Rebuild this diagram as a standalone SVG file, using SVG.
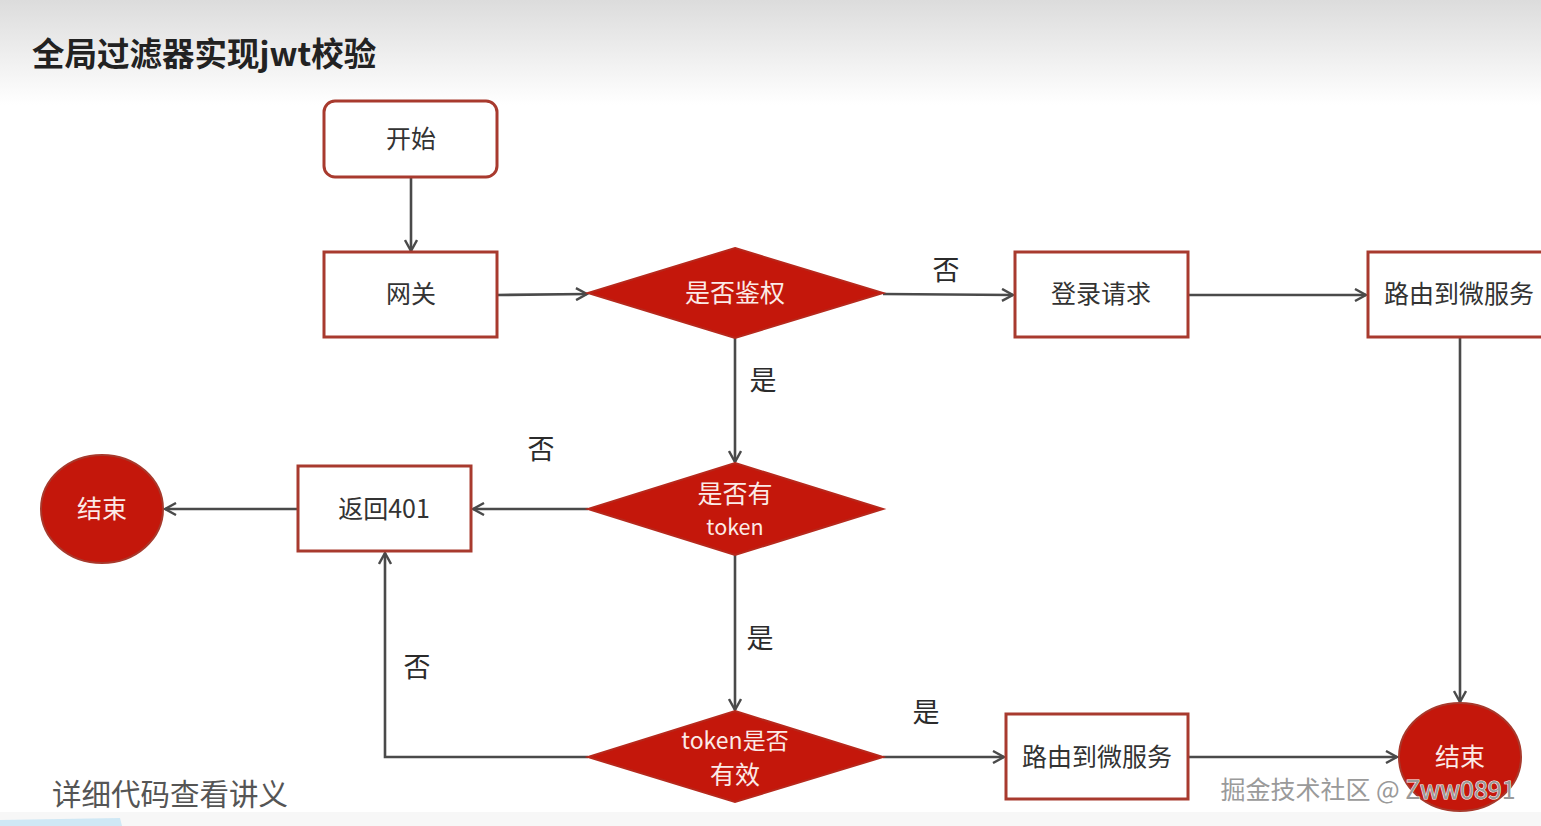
<svg xmlns="http://www.w3.org/2000/svg" width="1541" height="826" viewBox="0 0 1541 826">
  <defs>
    <linearGradient id="hdr" x1="0" y1="0" x2="0" y2="1">
      <stop offset="0" stop-color="#dcdcdc"/>
      <stop offset="1" stop-color="#ffffff"/>
    </linearGradient>
    <marker id="arr" viewBox="0 0 14 14" refX="12" refY="7" markerWidth="14" markerHeight="14" markerUnits="userSpaceOnUse" orient="auto">
      <path d="M1,1 L12,7 L1,13" fill="none" stroke="#4a4a4a" stroke-width="2.4" stroke-linejoin="miter"/>
    </marker>
    <style>
      .box { fill: #ffffff; stroke: #a83a2e; stroke-width: 3; }
      .dia { fill: #c4170b; stroke: #b7281c; stroke-width: 2; }
      .end { fill: #c4170b; stroke: #a8392c; stroke-width: 2; }
      .t { font-family: "Noto Sans CJK SC", "Noto Sans", "Liberation Sans", sans-serif; text-anchor: middle; dominant-baseline: central; }
      .nt { fill: #333333; font-size: 25px; }
      .wt { fill: #fbeae7; font-size: 25px; }
      .wt.sm { font-size: 21.5px; }
      .wt.md { font-size: 23px; }
      .lbl { fill: #2b2b2b; font-size: 27px; }
      .conn path { fill: none; stroke: #4a4a4a; stroke-width: 2.6; }
    </style>
  </defs>

  <rect x="0" y="0" width="1541" height="826" fill="#ffffff"/>
  <rect x="0" y="0" width="1541" height="105" fill="url(#hdr)"/>
  <rect x="0" y="812" width="1541" height="14" fill="#f7f7f7"/>
  <path d="M0,820 L120,818 L122,826 L0,826 Z" fill="#cfe8f5"/>

  <text x="32" y="51" font-family="Noto Sans CJK SC, Liberation Sans, sans-serif" font-size="32.5" font-weight="bold" fill="#222222" dominant-baseline="central">全局过滤器实现jwt校验</text>

  <g id="connectors" class="conn">
    <path d="M411,177 L411,251" marker-end="url(#arr)"/>
    <path d="M497,295 L587,294" marker-end="url(#arr)"/>
    <path d="M883,294 L1013,295" marker-end="url(#arr)"/>
    <path d="M1188,295 L1366,295" marker-end="url(#arr)"/>
    <path d="M1460,337 L1460,702" marker-end="url(#arr)"/>
    <path d="M735,338 L735,462" marker-end="url(#arr)"/>
    <path d="M588,509 L473,509" marker-end="url(#arr)"/>
    <path d="M298,509 L165,509" marker-end="url(#arr)"/>
    <path d="M735,555 L735,710" marker-end="url(#arr)"/>
    <path d="M588,757 L385,757 L385,553" marker-end="url(#arr)"/>
    <path d="M883,757 L1004,757" marker-end="url(#arr)"/>
    <path d="M1188,757 L1397,757" marker-end="url(#arr)"/>
  </g>

  <g id="labels">
    <text class="t lbl" x="946" y="268">否</text>
    <text class="t lbl" x="763" y="378">是</text>
    <text class="t lbl" x="541" y="447">否</text>
    <text class="t lbl" x="760" y="636">是</text>
    <text class="t lbl" x="417" y="665">否</text>
    <text class="t lbl" x="926" y="710">是</text>
  </g>

  <g id="start">
    <rect class="box" x="324" y="101" width="173" height="76" rx="11"/>
    <text class="t nt" x="411" y="137">开始</text>
  </g>
  <g id="gateway">
    <rect class="box" x="324" y="252" width="173" height="85"/>
    <text class="t nt" x="411" y="292">网关</text>
  </g>
  <g id="auth">
    <polygon class="dia" points="735,248 883,293 735,338 588,293"/>
    <text class="t wt" x="735" y="291">是否鉴权</text>
  </g>
  <g id="login">
    <rect class="box" x="1015" y="252" width="173" height="85"/>
    <text class="t nt" x="1101" y="292">登录请求</text>
  </g>
  <g id="route1">
    <rect class="box" x="1368" y="252" width="180" height="85"/>
    <text class="t nt" x="1459" y="292">路由到微服务</text>
  </g>
  <g id="hastoken">
    <polygon class="dia" points="735,463 883,509 735,555 588,509"/>
    <text class="t wt" x="735" y="492">是否有</text>
    <text class="t wt sm" x="735" y="525">token</text>
  </g>
  <g id="ret401">
    <rect class="box" x="298" y="466" width="173" height="85"/>
    <text class="t nt" x="384" y="507">返回401</text>
  </g>
  <g id="end1">
    <ellipse class="end" cx="102" cy="509" rx="61" ry="54"/>
    <text class="t wt" x="102" y="507">结束</text>
  </g>
  <g id="valid">
    <polygon class="dia" points="735,711 883,757 735,802 588,757"/>
    <text class="t wt md" x="735" y="739">token是否</text>
    <text class="t wt" x="735" y="773">有效</text>
  </g>
  <g id="route2">
    <rect class="box" x="1006" y="714" width="182" height="85"/>
    <text class="t nt" x="1097" y="755">路由到微服务</text>
  </g>
  <g id="end2">
    <ellipse class="end" cx="1460" cy="757" rx="61" ry="54"/>
    <text class="t wt" x="1460" y="755">结束</text>
  </g>

  <text class="t" x="170" y="792" font-size="29.5" fill="#555555">详细代码查看讲义</text>
  <text class="t" x="1368" y="788" font-size="25" fill="#9a9a9a" stroke="#ffffff" stroke-width="1" paint-order="stroke">掘金技术社区 @ Zww0891</text>
</svg>
